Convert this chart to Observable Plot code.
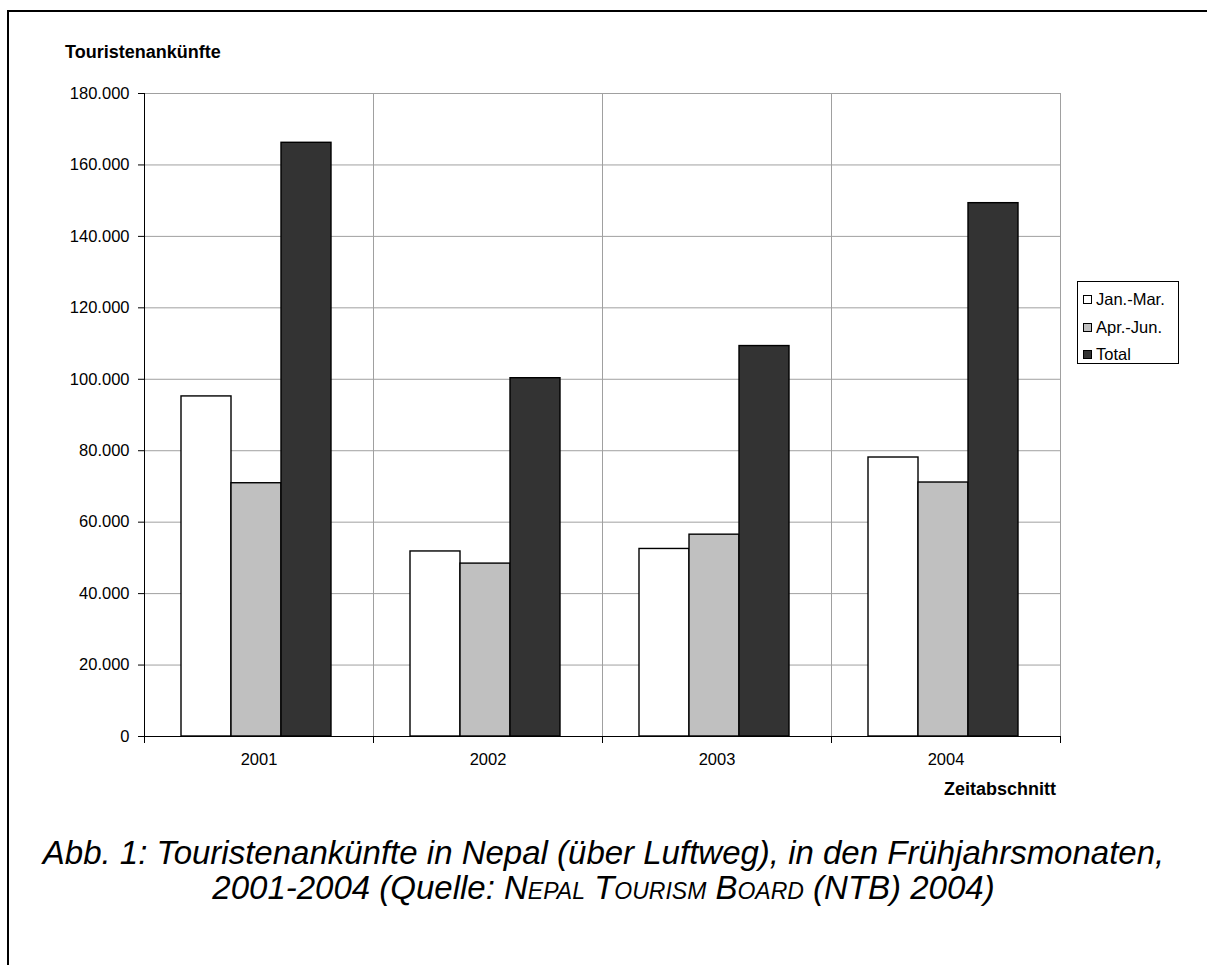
<!DOCTYPE html>
<html>
<head>
<meta charset="utf-8">
<script src="https://cdn.jsdelivr.net/npm/d3@7"></script>
<script src="https://cdn.jsdelivr.net/npm/@observablehq/plot@0.6"></script>
<style>
  body { margin: 0; background: #fff; font-family: "Liberation Sans", Arial, sans-serif; color: #000; }
  #page { position: relative; width: 1207px; height: 965px; overflow: hidden; background: #fff; }
  #border { position: absolute; left: 7px; top: 10px; width: 1400px; height: 1100px; border-top: 2px solid #000; border-left: 2px solid #000; }
  #chart { position: absolute; left: 0; top: 0; }
  #ytitle { position: absolute; left: 65px; top: 42px; font-weight: bold; font-size: 18px; white-space: nowrap; }
  #xtitle { position: absolute; left: 0; width: 1056px; text-align: right; top: 779px; font-weight: bold; font-size: 18px; white-space: nowrap; }
  #legend { position: absolute; left: 1077px; top: 281px; width: 102px; height: 83px; border: 1px solid #000; background: #fff; box-sizing: border-box; padding-top: 4px; }
  .item { display: flex; align-items: center; height: 27.5px; padding-left: 5px; font-size: 16.5px; white-space: nowrap; }
  .sw { width: 9px; height: 9px; border: 1px solid #000; margin-right: 4px; box-sizing: border-box; }
  #caption { position: absolute; left: 0; width: 1207px; top: 835px; text-align: center; font-style: italic; font-size: 33px; line-height: 35px; }
  .sc { font-variant: small-caps; }
</style>
</head>
<body>
<div id="page">
  <div id="border"></div>
  <div id="chart"></div>
  <div id="ytitle">Touristenankünfte</div>
  <div id="xtitle">Zeitabschnitt</div>
  <div id="legend"></div>
  <div id="caption">Abb. 1: Touristenankünfte in Nepal (über Luftweg), in den Frühjahrsmonaten,<br>2001-2004 (Quelle: <span class="sc">Nepal Tourism Board</span> (NTB) 2004)</div>
</div>
<script>
// ---- data ----
const years = ["2001", "2002", "2003", "2004"];
const series = ["Jan.-Mar.", "Apr.-Jun.", "Total"];
const janMar = [95200, 51800, 52500, 78100];
const aprJun = [70900, 48400, 56500, 71100];
const total = [166200, 100300, 109300, 149300];
const seriesColors = ["#ffffff", "#c0c0c0", "#333333"];
const yTicks = [0, 20000, 40000, 60000, 80000, 100000, 120000, 140000, 160000, 180000];

const valuesBySeries = [janMar, aprJun, total];
const rows = [];
years.forEach((yr, i) => {
  series.forEach((s, j) => rows.push({year: yr, series: s, value: valuesBySeries[j][i]}));
});

const de = d3.formatLocale({decimal: ",", thousands: ".", grouping: [3], currency: ["", " €"]});
const fmt = de.format(",d");

const W = 1207, H = 830, mt = 93, mb = 94, ml = 143, mr = 147;
const innerH = H - mt - mb;
const fs = 16.5;

const chart = Plot.plot({
  width: W,
  height: H,
  marginTop: mt,
  marginBottom: mb,
  marginLeft: ml,
  marginRight: mr,
  style: {fontFamily: '"Liberation Sans", Arial, sans-serif', fontSize: fs + "px", color: "#000", background: "transparent"},
  fx: {domain: years, padding: 0, label: null},
  x: {domain: series, paddingInner: 0, paddingOuter: 0.78, align: 0.47, axis: null},
  y: {domain: [0, 180000], label: null},
  color: {domain: series, range: seriesColors},
  marks: [
    Plot.gridY({ticks: yTicks, stroke: "#a0a0a0", strokeOpacity: 1, strokeWidth: 1}),
    Plot.frame({anchor: "left", stroke: "#000", strokeWidth: 1}),
    Plot.frame({anchor: "right", stroke: "#a0a0a0", strokeOpacity: 1, strokeWidth: 1}),
    Plot.barY(rows, {fx: "year", x: "series", y: "value", fill: "series", stroke: "#000", strokeWidth: 1.4}),
    Plot.ruleY([0], {stroke: "#000", strokeWidth: 1}),
    Plot.frame({anchor: "left", stroke: "#000", insetTop: innerH, insetBottom: -6}),
    Plot.frame({anchor: "right", stroke: "#000", insetTop: innerH, insetBottom: -6}),
    Plot.axisY({ticks: yTicks, tickFormat: fmt, tickSize: 6, tickPadding: 9, fontSize: fs, label: null, stroke: "#000"}),
    Plot.axisFx({anchor: "bottom", tickSize: 0, tickPadding: 17, fontSize: fs, label: null})
  ]
});
document.getElementById("chart").appendChild(chart);

// legend
const lg = document.getElementById("legend");
series.forEach((s, j) => {
  const it = document.createElement("div");
  it.className = "item";
  const sw = document.createElement("span");
  sw.className = "sw";
  sw.style.background = seriesColors[j];
  const tx = document.createElement("span");
  tx.textContent = s;
  it.appendChild(sw);
  it.appendChild(tx);
  lg.appendChild(it);
});
</script>
</body>
</html>
